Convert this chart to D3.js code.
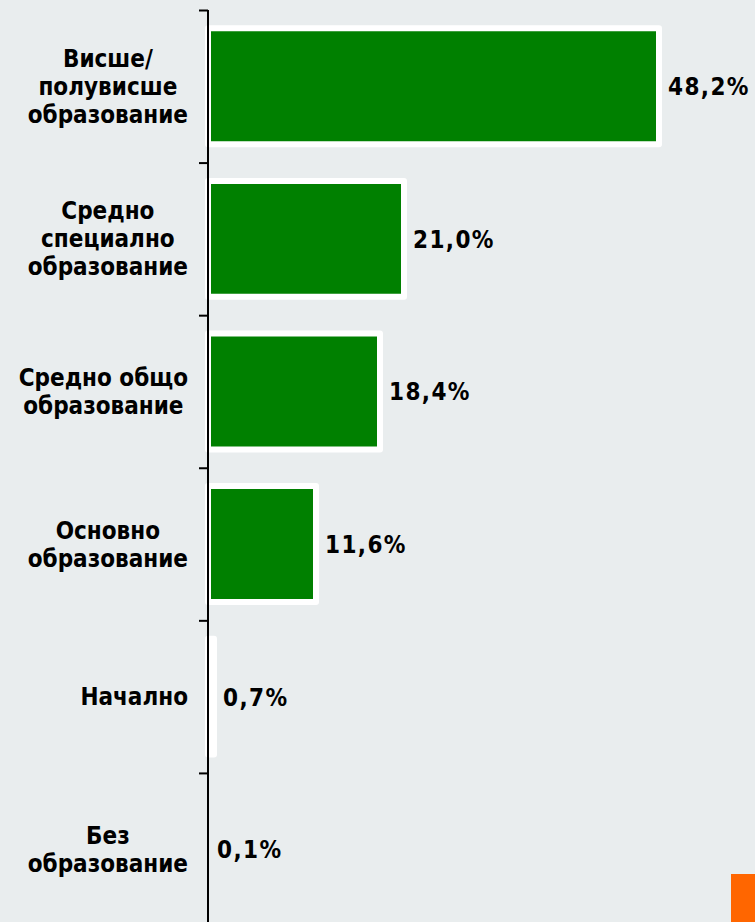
<!DOCTYPE html>
<html>
<head>
<meta charset="utf-8">
<script src="https://cdn.jsdelivr.net/npm/d3@7"></script>
<style>
  html, body { margin: 0; padding: 0; background: #e9edee; }
  svg { display: block; }
  .lbl { font-family: "DejaVu Sans Condensed", "DejaVu Sans", sans-serif; font-weight: bold; font-size: 24px; fill: #000; }
  .val { letter-spacing: 1.4px; }
</style>
</head>
<body>
<div id="chart"></div>
<script>
// chart data
const categories = [
  ['Висше/', 'полувисше', 'образование'],
  ['Средно', 'специално', 'образование'],
  ['Средно общо', 'образование'],
  ['Основно', 'образование'],
  ['Начално'],
  ['Без', 'образование']
];
const values = [48.2, 21.0, 18.4, 11.6, 0.7, 0.1];
const valueLabels = ['48,2%', '21,0%', '18,4%', '11,6%', '0,7%', '0,1%'];

// layout
const width = 755, height = 922;
const axisX = 208;
const lineH = 28;

const svg = d3.select('#chart').append('svg')
  .attr('width', width)
  .attr('height', height);

svg.append('rect')
  .attr('width', width).attr('height', height)
  .attr('fill', '#e9edee');

// scales
const idx = d3.range(values.length);
const y = d3.scaleBand()
  .domain(idx)
  .range([10, 925.5])
  .paddingInner(0.24)
  .paddingOuter(0.12);

const x = d3.scaleLinear()
  .domain([0, 50])
  .range([axisX, axisX + 468]);

const yEdge = d3.scaleLinear()
  .domain([0, values.length])
  .range(y.range());

// snapped bar length in pixels
const barW = d => Math.floor(x(d) - x(0));

// bars
svg.selectAll('.bar')
  .data(values)
  .enter()
  .append('rect')
  .classed('bar', true)
  .attr('x', x(0))
  .attr('y', (d, i) => y(i))
  .attr('width', barW)
  .attr('height', y.bandwidth())
  .attr('fill', '#008000')
  .attr('stroke', '#ffffff')
  .attr('stroke-width', 6)
  .attr('stroke-linejoin', 'round');

// axis with ticks at category boundaries
const axis = d3.axisLeft(yEdge)
  .tickValues(d3.range(values.length + 1))
  .tickSize(9)
  .tickSizeOuter(0)
  .tickFormat('');

const axisG = svg.append('g')
  .attr('transform', `translate(${axisX},0)`)
  .call(axis);
axisG.select('.domain').attr('stroke', '#000').attr('stroke-width', 2)
  .attr('d', `M0,${yEdge(0)}V${height + 5}`);
axisG.selectAll('.tick line').attr('stroke', '#000').attr('stroke-width', 2);

// value labels
svg.selectAll('.val')
  .data(values)
  .enter()
  .append('text')
  .attr('class', 'lbl val')
  .attr('x', d => x(0) + barW(d) + 9)
  .attr('y', (d, i) => y(i) + y.bandwidth() / 2 + 9)
  .text((d, i) => valueLabels[i]);

// category labels: lines centered within a block right-aligned to the axis
const rightEdge = 188;
categories.forEach((lines, i) => {
  const cy = y(i) + y.bandwidth() / 2;
  const g = svg.append('g').classed('cat', true);
  const texts = g.selectAll('text')
    .data(lines)
    .enter()
    .append('text')
    .attr('class', 'lbl')
    .attr('text-anchor', 'middle')
    .attr('y', (d, j) => cy + (j - (lines.length - 1) / 2) * lineH + 8.5)
    .text(d => d);
  let blockW = 0;
  texts.each(function() { blockW = Math.max(blockW, this.getComputedTextLength()); });
  texts.attr('x', rightEdge - blockW / 2);
});

// orange corner mark
svg.append('rect')
  .attr('x', 731).attr('y', 874)
  .attr('width', width - 731).attr('height', height - 874)
  .attr('fill', '#ff6600');
</script>
</body>
</html>
